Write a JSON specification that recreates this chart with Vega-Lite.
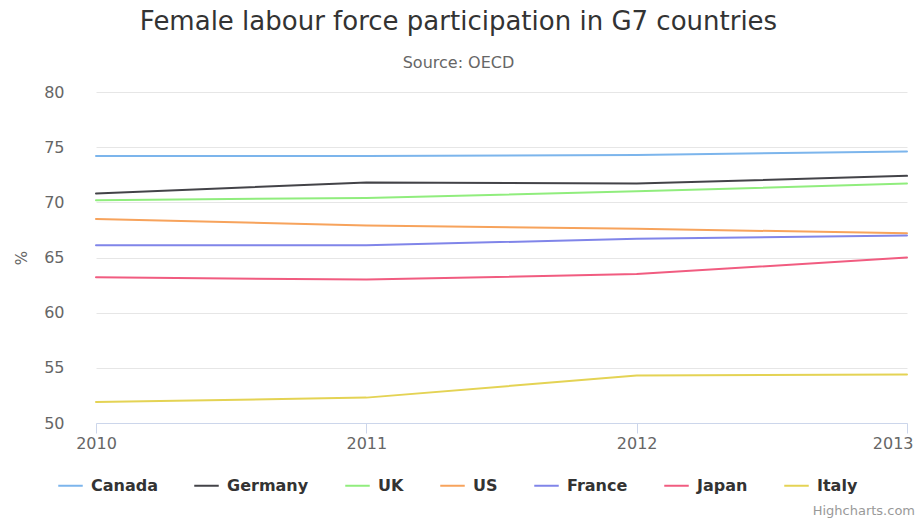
{
  "$schema": "https://vega.github.io/schema/vega-lite/v6.json",
  "width": 811,
  "height": 331,
  "autosize": {"type": "none"},
  "padding": {"left": 96, "top": 92, "right": 10, "bottom": 99},
  "background": "white",
  "title": {
    "text": "Female labour force participation in G7 countries",
    "subtitle": "Source: OECD",
    "anchor": "middle",
    "dx": -43,
    "offset": 13,
    "font": "DejaVu Sans",
    "fontSize": 26,
    "fontWeight": "normal",
    "color": "#333333",
    "subtitleFont": "DejaVu Sans",
    "subtitleFontSize": 16,
    "subtitleColor": "#666666",
    "subtitlePadding": 20
  },
  "config": {
    "view": {"stroke": null},
    "font": "DejaVu Sans",
    "axis": {"labelFont": "DejaVu Sans", "titleFont": "DejaVu Sans"},
    "legend": {"labelFont": "DejaVu Sans"}
  },
  "data": {
    "values": [
      {"country": "Canada", "year": 2010, "value": 74.2},
      {"country": "Canada", "year": 2011, "value": 74.2},
      {"country": "Canada", "year": 2012, "value": 74.3},
      {"country": "Canada", "year": 2013, "value": 74.6},
      {"country": "Germany", "year": 2010, "value": 70.8},
      {"country": "Germany", "year": 2011, "value": 71.8},
      {"country": "Germany", "year": 2012, "value": 71.7},
      {"country": "Germany", "year": 2013, "value": 72.4},
      {"country": "UK", "year": 2010, "value": 70.2},
      {"country": "UK", "year": 2011, "value": 70.4},
      {"country": "UK", "year": 2012, "value": 71.0},
      {"country": "UK", "year": 2013, "value": 71.7},
      {"country": "US", "year": 2010, "value": 68.5},
      {"country": "US", "year": 2011, "value": 67.9},
      {"country": "US", "year": 2012, "value": 67.6},
      {"country": "US", "year": 2013, "value": 67.2},
      {"country": "France", "year": 2010, "value": 66.1},
      {"country": "France", "year": 2011, "value": 66.1},
      {"country": "France", "year": 2012, "value": 66.7},
      {"country": "France", "year": 2013, "value": 67.0},
      {"country": "Japan", "year": 2010, "value": 63.2},
      {"country": "Japan", "year": 2011, "value": 63.0},
      {"country": "Japan", "year": 2012, "value": 63.5},
      {"country": "Japan", "year": 2013, "value": 65.0},
      {"country": "Italy", "year": 2010, "value": 51.9},
      {"country": "Italy", "year": 2011, "value": 52.3},
      {"country": "Italy", "year": 2012, "value": 54.3},
      {"country": "Italy", "year": 2013, "value": 54.4}
    ]
  },
  "layer": [
    {
      "mark": {"type": "line", "strokeWidth": 2, "strokeJoin": "round", "strokeCap": "round"},
      "encoding": {
        "x": {
          "field": "year",
          "type": "quantitative",
          "scale": {"domain": [2010, 2013], "nice": false, "zero": false},
          "axis": {
            "title": null,
            "values": [2010, 2011, 2012, 2013],
            "format": "d",
            "grid": false,
            "domainColor": "#ccd6eb",
            "domainWidth": 1,
            "tickColor": "#ccd6eb",
            "tickSize": 10,
            "labelFontSize": 16,
            "labelColor": "#666666",
            "labelPadding": 2,
            "labelFlush": false,
            "labelAlign": {"condition": {"test": "datum.value == 2013", "value": "right"}, "value": "center"},
            "labelOffset": {"condition": {"test": "datum.value == 2013", "value": 6}, "value": 0}
          }
        },
        "y": {
          "field": "value",
          "type": "quantitative",
          "scale": {"domain": [50, 80], "nice": false, "zero": false},
          "axis": {
            "title": "%",
            "titleFontSize": 15,
            "titleFontWeight": "normal",
            "titleColor": "#666666",
            "titlePadding": 14,
            "values": [50, 55, 60, 65, 70, 75, 80],
            "domain": false,
            "ticks": false,
            "gridColor": "#e6e6e6",
            "labelFontSize": 16,
            "labelColor": "#666666",
            "labelPadding": 32
          }
        },
        "color": {
          "field": "country",
          "type": "nominal",
          "scale": {
            "domain": ["Canada", "Germany", "UK", "US", "France", "Japan", "Italy"],
            "range": ["#7cb5ec", "#434348", "#90ed7d", "#f7a35c", "#8085e9", "#f15c80", "#e4d354"]
          },
          "legend": {
            "title": null,
            "orient": "none",
            "direction": "horizontal",
            "legendX": -39,
            "legendY": 380,
            "symbolType": "stroke",
            "symbolStrokeWidth": 2,
            "symbolSize": 600,
            "labelFontSize": 16,
            "labelFontWeight": "bold",
            "labelColor": "#333333",
            "labelOffset": 7,
            "columnPadding": 32
          }
        }
      }
    },
    {
      "data": {"values": [{"credit": "Highcharts.com"}]},
      "mark": {"type": "text", "align": "right", "baseline": "middle", "fontSize": 13, "color": "#999999", "clip": false, "dx": 8},
      "encoding": {
        "x": {"datum": 2013},
        "y": {"datum": 42.0},
        "text": {"field": "credit"}
      }
    }
  ]
}
